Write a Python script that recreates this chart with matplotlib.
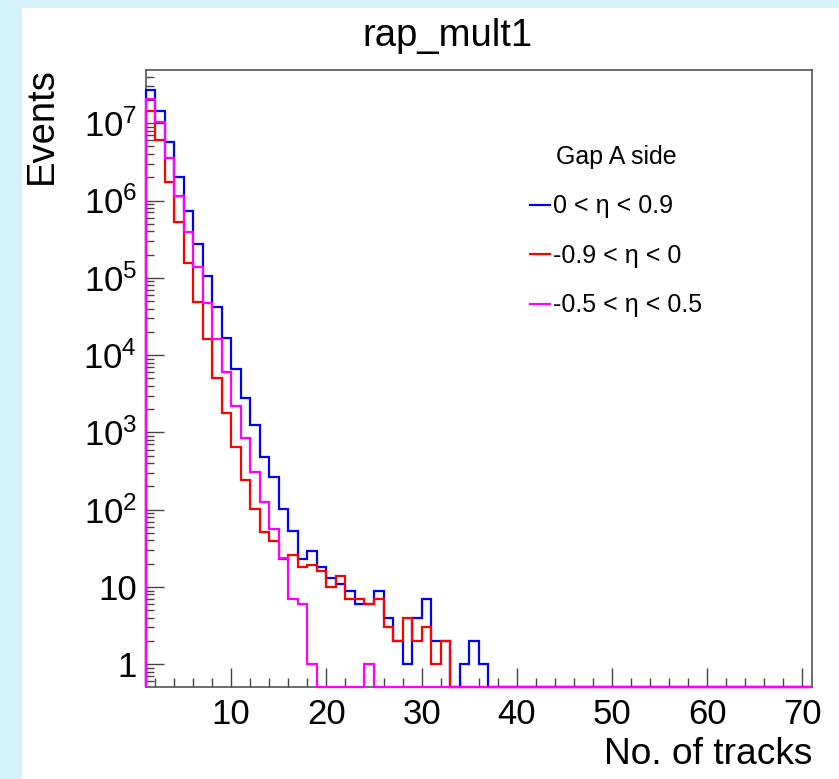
import numpy as np
import matplotlib
matplotlib.use("Agg")
import matplotlib.pyplot as plt
from matplotlib.patches import Rectangle
from matplotlib.ticker import MultipleLocator, FixedLocator, FuncFormatter, NullFormatter

plt.rcParams["font.family"] = ["Liberation Sans", "DejaVu Sans"]
plt.rcParams["mathtext.fontset"] = "custom"
plt.rcParams["mathtext.rm"] = "Liberation Sans"

# 70 bins of width 1, from 1 to 71
nbins = 70
edges = np.arange(1, nbins + 2)

# bin contents (bins 1, 2, 3, ...), rest are empty
eta_pos = [2.7e7, 1.45e7, 5.7e6, 2.0e6, 7.4e5, 2.7e5, 1.05e5, 4.15e4, 1.68e4, 6.6e3,
           2760, 1240, 485, 267, 102, 53, 23, 29, 18, 13,
           11, 9, 6, 6, 9, 4, 2, 1, 4, 7,
           2, 2, 0, 1, 2, 1]
eta_neg = [1.45e7, 6.1e6, 1.75e6, 5.3e5, 1.57e5, 4.9e4, 1.61e4, 5.0e3, 1.8e3, 653,
           242, 102, 52, 39, 23, 26, 18, 19, 16, 10,
           14, 7, 7, 6, 7, 3, 2, 4, 2, 3,
           1, 2]
eta_mid = [2.06e7, 1.05e7, 3.5e6, 1.15e6, 3.95e5, 1.37e5, 4.68e4, 1.6e4, 6.1e3, 2.2e3,
           839, 310, 125, 57, 24, 7, 6, 1, 0, 0,
           0, 0, 0, 1]

series = [
    (eta_pos, "#0000ff", r"0 < η < 0.9"),
    (eta_neg, "#ff0000", r"-0.9 < η < 0"),
    (eta_mid, "#ff00ff", r"-0.5 < η < 0.5"),
]

ymin, ymax = 0.504, 4.88e7

fig = plt.figure(figsize=(8.39, 7.79), dpi=100)
fig.patch.set_facecolor("#d5f2fb")
# white canvas of the screenshot
fig.patches.append(Rectangle((22 / 839, 0), 1, 1 - 8 / 779, transform=fig.transFigure,
                             facecolor="white", edgecolor="none", zorder=-10))

ax = fig.add_axes([145.5 / 839, 1 - 687.3 / 779, 666.5 / 839, 617.3 / 779])
ax.set_facecolor("white")

for vals, col, lab in series:
    v = np.array(vals + [0] * (nbins - len(vals)), dtype=float)
    v[v <= 0] = ymin  # empty bins sit on the frame, as in ROOT
    ax.stairs(v, edges, baseline=ymin, color=col, lw=1.6, clip_on=False, zorder=3)

ax.set_yscale("log")
ax.set_xlim(1, 71)
ax.set_ylim(ymin, ymax)

ax.xaxis.set_major_locator(MultipleLocator(10))
ax.xaxis.set_minor_locator(MultipleLocator(2))

# only decades inside the frame, so no hidden labels hang below it
decades = [10.0 ** e for e in range(0, 8)]
minors = [m * 10.0 ** e for e in range(-1, 8) for m in range(2, 10)]
minors = [m for m in minors if ymin <= m <= ymax]
ax.yaxis.set_major_locator(FixedLocator(decades))
ax.yaxis.set_minor_locator(FixedLocator(minors))


def ylab(v, pos):
    e = int(round(np.log10(v)))
    if e == 0:
        return "1"
    if e == 1:
        return "10"
    return r"$\mathregular{10^{%d}}$" % e


ax.yaxis.set_major_formatter(FuncFormatter(ylab))
ax.yaxis.set_minor_formatter(NullFormatter())

ax.tick_params(which="both", direction="in", top=False, right=False, color="#444444", width=1)
ax.tick_params(axis="x", which="major", length=13.5, pad=8, labelsize=25)
ax.tick_params(axis="x", which="minor", length=6.5)
ax.tick_params(axis="y", which="major", length=13, pad=6, labelsize=25)
ax.tick_params(axis="y", which="minor", length=6)

for s in ax.spines.values():
    s.set_color("#555555")
    s.set_linewidth(1.2)

fig.text(447 / 839, 1 - 36 / 779, "rap_mult1", ha="center", va="center", fontsize=27.5)
fig.text(42 / 839, 1 - 67 / 779, "Events", rotation=90, ha="center", va="top", fontsize=27.5)
fig.text(812 / 839, 1 - 755 / 779, "No. of tracks", ha="right", va="center", fontsize=26.7)

leg = ax.legend(handles=[plt.Line2D([], [], color=c, lw=1.6) for _, c, _ in series],
                labels=[l for _, _, l in series], title="Gap A side",
                loc="upper left", bbox_to_anchor=(0.543, 0.915), frameon=False,
                fontsize=18, title_fontsize=18, handlelength=0.8, handletextpad=0.12,
                labelspacing=1.02)

fig.savefig("out.png", dpi=100, facecolor=fig.get_facecolor())
